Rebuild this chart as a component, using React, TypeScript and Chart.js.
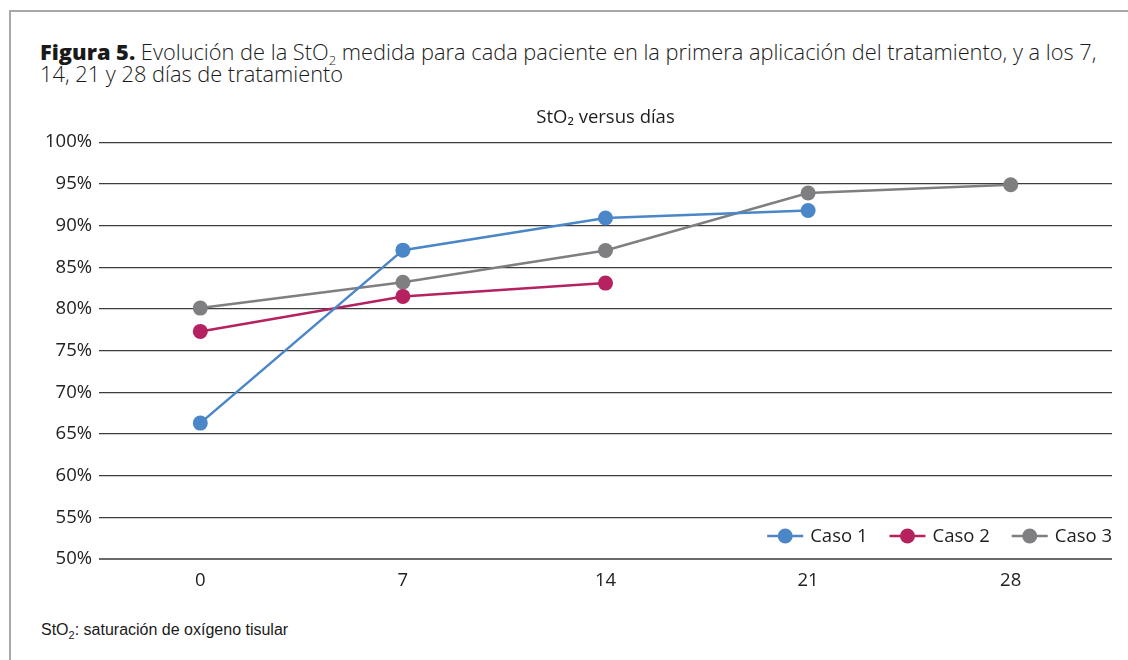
import React, { useEffect, useRef } from "react";
import { Chart, registerables } from "chart.js";

Chart.register(...registerables);

const dias = ["0", "7", "14", "21", "28"];
const caso1 = [66.3, 87.05, 90.9, 91.8, null];
const caso2 = [77.3, 81.5, 83.1, null, null];
const caso3 = [80.1, 83.2, 87.0, 93.9, 94.9];
const seriesNames = ["Caso 1", "Caso 2", "Caso 3"];
const seriesColors = ["#4a86c8", "#b5225f", "#7f7f81"];

const FONT = "'Open Sans', 'Noto Sans', sans-serif";

const legendPlugin = {
  id: "insideLegend",
  afterDraw(chart: any) {
    const { ctx, chartArea } = chart;
    ctx.save();
    ctx.font = `18.5px ${FONT}`;
    const lineLen = 36;
    const gapText = 7;
    const gapItem = 22;
    const items = chart.data.datasets.map((d: any) => ({
      label: d.label,
      color: d.borderColor,
      w: lineLen + gapText + ctx.measureText(d.label).width,
    }));
    const total = items.reduce((s: number, it: any) => s + it.w, 0) + gapItem * (items.length - 1);
    let x = chartArea.right - total;
    const y = chartArea.bottom - 23;
    for (const it of items) {
      ctx.strokeStyle = it.color;
      ctx.lineWidth = 2.5;
      ctx.beginPath();
      ctx.moveTo(x, y);
      ctx.lineTo(x + lineLen, y);
      ctx.stroke();
      ctx.fillStyle = it.color;
      ctx.beginPath();
      ctx.arc(x + lineLen / 2, y, 7.5, 0, Math.PI * 2);
      ctx.fill();
      ctx.fillStyle = "#1e1e1e";
      ctx.textBaseline = "middle";
      ctx.textAlign = "left";
      ctx.fillText(it.label, x + lineLen + gapText, y + 1);
      x += it.w + gapItem;
    }
    ctx.restore();
  },
};

function App() {
  const ref = useRef<HTMLCanvasElement | null>(null);

  useEffect(() => {
    document.body.style.margin = "0";
    const data = [caso1, caso2, caso3];
    const chart = new Chart(ref.current as HTMLCanvasElement, {
      type: "line",
      data: {
        labels: dias,
        datasets: seriesNames.map((name, i) => ({
          label: name,
          data: data[i],
          borderColor: seriesColors[i],
          backgroundColor: seriesColors[i],
          pointBackgroundColor: seriesColors[i],
          pointBorderWidth: 0,
          pointRadius: 7.5,
          borderWidth: 2.5,
          tension: 0,
          spanGaps: false,
        })),
      },
      plugins: [legendPlugin],
      options: {
        animation: false,
        responsive: false,
        maintainAspectRatio: false,
        layout: { padding: { left: 0, right: 16, top: 0, bottom: 0 } },
        plugins: {
          legend: { display: false },
          tooltip: { enabled: false },
          title: {
            display: true,
            fullSize: false,
            text: "StO₂ versus días",
            color: "#1e1e1e",
            font: { family: FONT, size: 18.5, weight: "normal" },
            padding: { top: 7, bottom: 13 },
          },
        },
        scales: {
          x: {
            offset: true,
            grid: { display: false },
            border: { display: false },
            ticks: {
              color: "#222",
              font: { family: FONT, size: 18.5 },
              padding: 3,
              maxRotation: 0,
            },
            afterFit(scale: any) {
              scale.height = 41;
            },
          },
          y: {
            min: 50,
            max: 100,
            border: { display: false },
            grid: {
              drawTicks: false,
              color: (c: any) => (c.tick && c.tick.value === 50 ? "#6a6a6a" : "#3c3c3c"),
              lineWidth: (c: any) => (c.tick && c.tick.value === 50 ? 2 : 1.2),
            },
            ticks: {
              stepSize: 5,
              color: "#222",
              font: { family: FONT, size: 18.5 },
              padding: 7,
              callback: (v: any) => v + "%",
            },
            afterFit(scale: any) {
              scale.width = 99;
            },
          },
        },
      },
    } as any);
    return () => chart.destroy();
  }, []);

  return (
    <div
      style={{
        position: "fixed",
        left: 0,
        top: 0,
        width: 1128,
        height: 660,
        background: "#fff",
        overflow: "hidden",
        fontFamily: FONT,
      }}
    >
      <div
        style={{
          position: "absolute",
          left: 9,
          top: 10,
          width: 1200,
          height: 800,
          borderTop: "2px solid #a8a8a8",
          borderLeft: "2px solid #a8a8a8",
        }}
      />
      <div
        style={{
          position: "absolute",
          left: 40,
          top: 41,
          fontSize: 21.8,
          fontWeight: 300,
          lineHeight: "22px",
          color: "#1a1a1a",
          whiteSpace: "nowrap",
        }}
      >
        <b style={{ fontWeight: 800 }}>Figura 5.</b> Evolución de la StO<sub style={{ fontSize: 13, lineHeight: 0 }}>2</sub> medida para cada paciente en la primera aplicación del tratamiento, y a los 7,
        <br />
        14, 21 y 28 días de tratamiento
      </div>
      <canvas
        ref={ref}
        width={1128}
        height={500}
        style={{ position: "absolute", left: 0, top: 100, width: 1128, height: 500 }}
      />
      <div
        style={{
          position: "absolute",
          left: 41,
          top: 621,
          fontFamily: "'Liberation Sans', Arial, sans-serif",
          fontSize: 16,
          color: "#1a1a1a",
          whiteSpace: "nowrap",
        }}
      >
        StO<sub style={{ fontSize: 11, lineHeight: 0 }}>2</sub>: saturación de oxígeno tisular
      </div>
    </div>
  );
}

export default App;
